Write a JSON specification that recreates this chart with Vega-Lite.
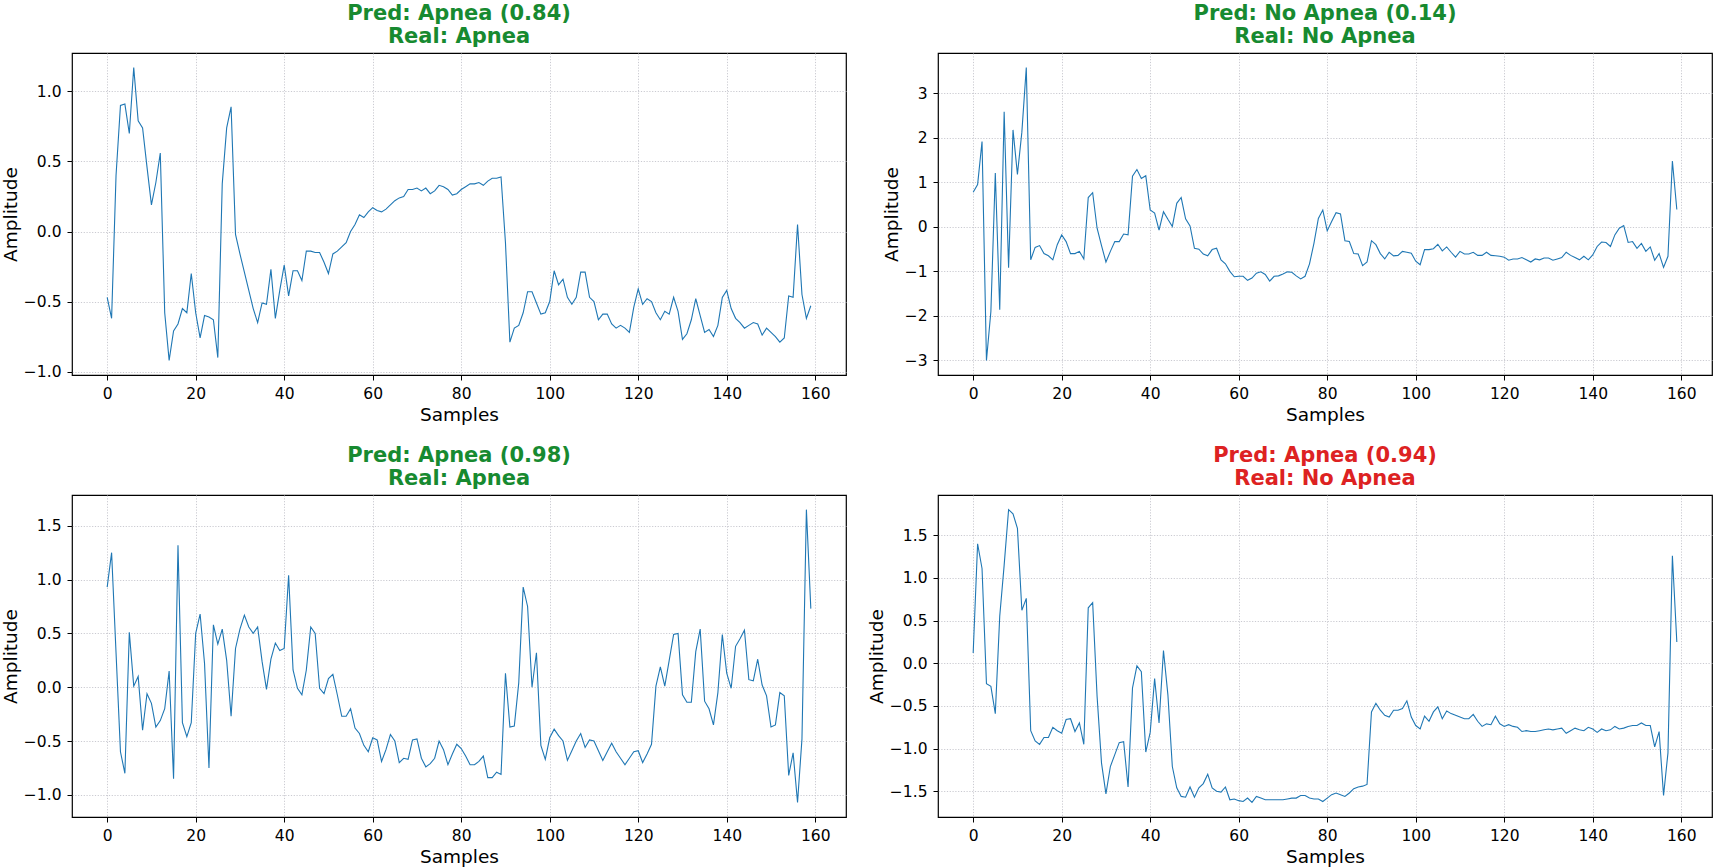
{
  "$schema": "https://vega.github.io/schema/vega-lite/v6.json",
  "padding": {"left": 0, "top": 2, "right": 0, "bottom": 0},
  "background": "white",
  "datasets": {
    "p1": [
      {"x":0,"y":-0.47},{"x":1,"y":-0.62},{"x":2,"y":0.40},{"x":3,"y":0.90},{"x":4,"y":0.91},{"x":5,"y":0.70},{"x":6,"y":1.17},{"x":7,"y":0.79},{"x":8,"y":0.74},{"x":9,"y":0.46},
      {"x":10,"y":0.19},{"x":11,"y":0.35},{"x":12,"y":0.56},{"x":13,"y":-0.58},{"x":14,"y":-0.92},{"x":15,"y":-0.71},{"x":16,"y":-0.66},{"x":17,"y":-0.55},{"x":18,"y":-0.58},{"x":19,"y":-0.30},
      {"x":20,"y":-0.58},{"x":21,"y":-0.76},{"x":22,"y":-0.60},{"x":23,"y":-0.61},{"x":24,"y":-0.63},{"x":25,"y":-0.90},{"x":26,"y":0.34},{"x":27,"y":0.74},{"x":28,"y":0.89},{"x":29,"y":-0.02},
      {"x":30,"y":-0.16},{"x":31,"y":-0.29},{"x":32,"y":-0.42},{"x":33,"y":-0.55},{"x":34,"y":-0.65},{"x":35,"y":-0.51},{"x":36,"y":-0.52},{"x":37,"y":-0.27},{"x":38,"y":-0.62},{"x":39,"y":-0.42},
      {"x":40,"y":-0.24},{"x":41,"y":-0.46},{"x":42,"y":-0.28},{"x":43,"y":-0.28},{"x":44,"y":-0.35},{"x":45,"y":-0.14},{"x":46,"y":-0.14},{"x":47,"y":-0.15},{"x":48,"y":-0.15},{"x":49,"y":-0.22},
      {"x":50,"y":-0.30},{"x":51,"y":-0.16},{"x":52,"y":-0.14},{"x":53,"y":-0.11},{"x":54,"y":-0.08},{"x":55,"y":0.00},{"x":56,"y":0.05},{"x":57,"y":0.12},{"x":58,"y":0.10},{"x":59,"y":0.14},
      {"x":60,"y":0.17},{"x":61,"y":0.15},{"x":62,"y":0.14},{"x":63,"y":0.16},{"x":64,"y":0.19},{"x":65,"y":0.22},{"x":66,"y":0.24},{"x":67,"y":0.25},{"x":68,"y":0.30},{"x":69,"y":0.30},
      {"x":70,"y":0.31},{"x":71,"y":0.29},{"x":72,"y":0.31},{"x":73,"y":0.27},{"x":74,"y":0.29},{"x":75,"y":0.33},{"x":76,"y":0.32},{"x":77,"y":0.30},{"x":78,"y":0.26},{"x":79,"y":0.27},
      {"x":80,"y":0.30},{"x":81,"y":0.32},{"x":82,"y":0.34},{"x":83,"y":0.34},{"x":84,"y":0.35},{"x":85,"y":0.33},{"x":86,"y":0.36},{"x":87,"y":0.38},{"x":88,"y":0.38},{"x":89,"y":0.39},
      {"x":90,"y":-0.08},{"x":91,"y":-0.79},{"x":92,"y":-0.69},{"x":93,"y":-0.67},{"x":94,"y":-0.58},{"x":95,"y":-0.43},{"x":96,"y":-0.43},{"x":97,"y":-0.51},{"x":98,"y":-0.59},{"x":99,"y":-0.58},
      {"x":100,"y":-0.50},{"x":101,"y":-0.28},{"x":102,"y":-0.38},{"x":103,"y":-0.34},{"x":104,"y":-0.47},{"x":105,"y":-0.52},{"x":106,"y":-0.47},{"x":107,"y":-0.29},{"x":108,"y":-0.29},{"x":109,"y":-0.47},
      {"x":110,"y":-0.50},{"x":111,"y":-0.63},{"x":112,"y":-0.59},{"x":113,"y":-0.59},{"x":114,"y":-0.66},{"x":115,"y":-0.69},{"x":116,"y":-0.67},{"x":117,"y":-0.69},{"x":118,"y":-0.72},{"x":119,"y":-0.54},
      {"x":120,"y":-0.41},{"x":121,"y":-0.52},{"x":122,"y":-0.48},{"x":123,"y":-0.50},{"x":124,"y":-0.58},{"x":125,"y":-0.63},{"x":126,"y":-0.57},{"x":127,"y":-0.59},{"x":128,"y":-0.47},{"x":129,"y":-0.57},
      {"x":130,"y":-0.77},{"x":131,"y":-0.73},{"x":132,"y":-0.63},{"x":133,"y":-0.48},{"x":134,"y":-0.60},{"x":135,"y":-0.72},{"x":136,"y":-0.70},{"x":137,"y":-0.75},{"x":138,"y":-0.67},{"x":139,"y":-0.47},
      {"x":140,"y":-0.42},{"x":141,"y":-0.55},{"x":142,"y":-0.62},{"x":143,"y":-0.65},{"x":144,"y":-0.69},{"x":145,"y":-0.67},{"x":146,"y":-0.65},{"x":147,"y":-0.66},{"x":148,"y":-0.74},{"x":149,"y":-0.69},
      {"x":150,"y":-0.72},{"x":151,"y":-0.75},{"x":152,"y":-0.79},{"x":153,"y":-0.76},{"x":154,"y":-0.46},{"x":155,"y":-0.47},{"x":156,"y":0.05},{"x":157,"y":-0.45},{"x":158,"y":-0.62},{"x":159,"y":-0.53}
    ],
    "p2": [
      {"x":0,"y":0.78},{"x":1,"y":0.95},{"x":2,"y":1.92},{"x":3,"y":-3.00},{"x":4,"y":-1.90},{"x":5,"y":1.21},{"x":6,"y":-1.86},{"x":7,"y":2.59},{"x":8,"y":-0.92},{"x":9,"y":2.18},
      {"x":10,"y":1.18},{"x":11,"y":2.13},{"x":12,"y":3.58},{"x":13,"y":-0.74},{"x":14,"y":-0.46},{"x":15,"y":-0.42},{"x":16,"y":-0.60},{"x":17,"y":-0.65},{"x":18,"y":-0.74},{"x":19,"y":-0.40},
      {"x":20,"y":-0.18},{"x":21,"y":-0.33},{"x":22,"y":-0.60},{"x":23,"y":-0.60},{"x":24,"y":-0.55},{"x":25,"y":-0.72},{"x":26,"y":0.66},{"x":27,"y":0.77},{"x":28,"y":-0.03},{"x":29,"y":-0.42},
      {"x":30,"y":-0.79},{"x":31,"y":-0.55},{"x":32,"y":-0.33},{"x":33,"y":-0.33},{"x":34,"y":-0.16},{"x":35,"y":-0.18},{"x":36,"y":1.14},{"x":37,"y":1.29},{"x":38,"y":1.09},{"x":39,"y":1.15},
      {"x":40,"y":0.38},{"x":41,"y":0.31},{"x":42,"y":-0.07},{"x":43,"y":0.34},{"x":44,"y":0.17},{"x":45,"y":0.01},{"x":46,"y":0.53},{"x":47,"y":0.66},{"x":48,"y":0.18},{"x":49,"y":0.02},
      {"x":50,"y":-0.48},{"x":51,"y":-0.50},{"x":52,"y":-0.61},{"x":53,"y":-0.65},{"x":54,"y":-0.51},{"x":55,"y":-0.48},{"x":56,"y":-0.74},{"x":57,"y":-0.83},{"x":58,"y":-1.00},{"x":59,"y":-1.12},
      {"x":60,"y":-1.11},{"x":61,"y":-1.11},{"x":62,"y":-1.20},{"x":63,"y":-1.15},{"x":64,"y":-1.04},{"x":65,"y":-1.01},{"x":66,"y":-1.07},{"x":67,"y":-1.22},{"x":68,"y":-1.11},{"x":69,"y":-1.10},
      {"x":70,"y":-1.06},{"x":71,"y":-1.01},{"x":72,"y":-1.02},{"x":73,"y":-1.10},{"x":74,"y":-1.17},{"x":75,"y":-1.11},{"x":76,"y":-0.83},{"x":77,"y":-0.37},{"x":78,"y":0.19},{"x":79,"y":0.38},
      {"x":80,"y":-0.09},{"x":81,"y":0.12},{"x":82,"y":0.32},{"x":83,"y":0.29},{"x":84,"y":-0.31},{"x":85,"y":-0.33},{"x":86,"y":-0.60},{"x":87,"y":-0.61},{"x":88,"y":-0.87},{"x":89,"y":-0.79},
      {"x":90,"y":-0.31},{"x":91,"y":-0.40},{"x":92,"y":-0.60},{"x":93,"y":-0.72},{"x":94,"y":-0.57},{"x":95,"y":-0.65},{"x":96,"y":-0.64},{"x":97,"y":-0.55},{"x":98,"y":-0.57},{"x":99,"y":-0.59},
      {"x":100,"y":-0.77},{"x":101,"y":-0.85},{"x":102,"y":-0.51},{"x":103,"y":-0.51},{"x":104,"y":-0.49},{"x":105,"y":-0.39},{"x":106,"y":-0.54},{"x":107,"y":-0.45},{"x":108,"y":-0.57},{"x":109,"y":-0.68},
      {"x":110,"y":-0.55},{"x":111,"y":-0.61},{"x":112,"y":-0.61},{"x":113,"y":-0.57},{"x":114,"y":-0.64},{"x":115,"y":-0.64},{"x":116,"y":-0.57},{"x":117,"y":-0.64},{"x":118,"y":-0.65},{"x":119,"y":-0.66},
      {"x":120,"y":-0.68},{"x":121,"y":-0.75},{"x":122,"y":-0.72},{"x":123,"y":-0.72},{"x":124,"y":-0.69},{"x":125,"y":-0.74},{"x":126,"y":-0.79},{"x":127,"y":-0.72},{"x":128,"y":-0.74},{"x":129,"y":-0.70},
      {"x":130,"y":-0.70},{"x":131,"y":-0.75},{"x":132,"y":-0.72},{"x":133,"y":-0.69},{"x":134,"y":-0.57},{"x":135,"y":-0.64},{"x":136,"y":-0.69},{"x":137,"y":-0.74},{"x":138,"y":-0.66},{"x":139,"y":-0.74},
      {"x":140,"y":-0.63},{"x":141,"y":-0.44},{"x":142,"y":-0.34},{"x":143,"y":-0.35},{"x":144,"y":-0.44},{"x":145,"y":-0.18},{"x":146,"y":-0.03},{"x":147,"y":0.03},{"x":148,"y":-0.35},{"x":149,"y":-0.33},
      {"x":150,"y":-0.48},{"x":151,"y":-0.37},{"x":152,"y":-0.55},{"x":153,"y":-0.45},{"x":154,"y":-0.75},{"x":155,"y":-0.60},{"x":156,"y":-0.91},{"x":157,"y":-0.66},{"x":158,"y":1.48},{"x":159,"y":0.39}
    ],
    "p3": [
      {"x":0,"y":0.93},{"x":1,"y":1.25},{"x":2,"y":0.32},{"x":3,"y":-0.60},{"x":4,"y":-0.80},{"x":5,"y":0.51},{"x":6,"y":0.01},{"x":7,"y":0.10},{"x":8,"y":-0.40},{"x":9,"y":-0.06},
      {"x":10,"y":-0.15},{"x":11,"y":-0.37},{"x":12,"y":-0.31},{"x":13,"y":-0.20},{"x":14,"y":0.15},{"x":15,"y":-0.85},{"x":16,"y":1.32},{"x":17,"y":-0.33},{"x":18,"y":-0.46},{"x":19,"y":-0.33},
      {"x":20,"y":0.50},{"x":21,"y":0.68},{"x":22,"y":0.22},{"x":23,"y":-0.75},{"x":24,"y":0.58},{"x":25,"y":0.40},{"x":26,"y":0.54},{"x":27,"y":0.25},{"x":28,"y":-0.27},{"x":29,"y":0.36},
      {"x":30,"y":0.54},{"x":31,"y":0.67},{"x":32,"y":0.56},{"x":33,"y":0.50},{"x":34,"y":0.56},{"x":35,"y":0.24},{"x":36,"y":-0.02},{"x":37,"y":0.26},{"x":38,"y":0.41},{"x":39,"y":0.34},
      {"x":40,"y":0.36},{"x":41,"y":1.04},{"x":42,"y":0.16},{"x":43,"y":-0.01},{"x":44,"y":-0.07},{"x":45,"y":0.16},{"x":46,"y":0.56},{"x":47,"y":0.50},{"x":48,"y":-0.01},{"x":49,"y":-0.06},
      {"x":50,"y":0.08},{"x":51,"y":0.12},{"x":52,"y":-0.07},{"x":53,"y":-0.27},{"x":54,"y":-0.27},{"x":55,"y":-0.20},{"x":56,"y":-0.38},{"x":57,"y":-0.43},{"x":58,"y":-0.54},{"x":59,"y":-0.60},
      {"x":60,"y":-0.47},{"x":61,"y":-0.49},{"x":62,"y":-0.69},{"x":63,"y":-0.58},{"x":64,"y":-0.44},{"x":65,"y":-0.50},{"x":66,"y":-0.70},{"x":67,"y":-0.66},{"x":68,"y":-0.67},{"x":69,"y":-0.49},
      {"x":70,"y":-0.48},{"x":71,"y":-0.66},{"x":72,"y":-0.74},{"x":73,"y":-0.71},{"x":74,"y":-0.66},{"x":75,"y":-0.50},{"x":76,"y":-0.58},{"x":77,"y":-0.72},{"x":78,"y":-0.62},{"x":79,"y":-0.53},
      {"x":80,"y":-0.57},{"x":81,"y":-0.64},{"x":82,"y":-0.72},{"x":83,"y":-0.72},{"x":84,"y":-0.69},{"x":85,"y":-0.64},{"x":86,"y":-0.84},{"x":87,"y":-0.84},{"x":88,"y":-0.79},{"x":89,"y":-0.81},
      {"x":90,"y":0.13},{"x":91,"y":-0.37},{"x":92,"y":-0.36},{"x":93,"y":0.04},{"x":94,"y":0.93},{"x":95,"y":0.75},{"x":96,"y":0.00},{"x":97,"y":0.32},{"x":98,"y":-0.54},{"x":99,"y":-0.67},
      {"x":100,"y":-0.47},{"x":101,"y":-0.39},{"x":102,"y":-0.45},{"x":103,"y":-0.50},{"x":104,"y":-0.68},{"x":105,"y":-0.59},{"x":106,"y":-0.50},{"x":107,"y":-0.43},{"x":108,"y":-0.56},{"x":109,"y":-0.49},
      {"x":110,"y":-0.50},{"x":111,"y":-0.59},{"x":112,"y":-0.68},{"x":113,"y":-0.60},{"x":114,"y":-0.52},{"x":115,"y":-0.60},{"x":116,"y":-0.66},{"x":117,"y":-0.72},{"x":118,"y":-0.66},{"x":119,"y":-0.60},
      {"x":120,"y":-0.59},{"x":121,"y":-0.70},{"x":122,"y":-0.62},{"x":123,"y":-0.53},{"x":124,"y":0.01},{"x":125,"y":0.19},{"x":126,"y":0.01},{"x":127,"y":0.25},{"x":128,"y":0.49},{"x":129,"y":0.50},
      {"x":130,"y":-0.07},{"x":131,"y":-0.14},{"x":132,"y":-0.14},{"x":133,"y":0.33},{"x":134,"y":0.54},{"x":135,"y":-0.13},{"x":136,"y":-0.20},{"x":137,"y":-0.35},{"x":138,"y":-0.05},{"x":139,"y":0.49},
      {"x":140,"y":0.13},{"x":141,"y":-0.01},{"x":142,"y":0.38},{"x":143,"y":0.45},{"x":144,"y":0.53},{"x":145,"y":0.07},{"x":146,"y":0.06},{"x":147,"y":0.26},{"x":148,"y":0.02},{"x":149,"y":-0.08},
      {"x":150,"y":-0.37},{"x":151,"y":-0.35},{"x":152,"y":-0.05},{"x":153,"y":-0.08},{"x":154,"y":-0.82},{"x":155,"y":-0.61},{"x":156,"y":-1.07},{"x":157,"y":-0.48},{"x":158,"y":1.65},{"x":159,"y":0.73}
    ],
    "p4": [
      {"x":0,"y":0.12},{"x":1,"y":1.40},{"x":2,"y":1.11},{"x":3,"y":-0.24},{"x":4,"y":-0.27},{"x":5,"y":-0.59},{"x":6,"y":0.55},{"x":7,"y":1.15},{"x":8,"y":1.80},{"x":9,"y":1.75},
      {"x":10,"y":1.58},{"x":11,"y":0.62},{"x":12,"y":0.76},{"x":13,"y":-0.79},{"x":14,"y":-0.91},{"x":15,"y":-0.95},{"x":16,"y":-0.87},{"x":17,"y":-0.87},{"x":18,"y":-0.75},{"x":19,"y":-0.79},
      {"x":20,"y":-0.82},{"x":21,"y":-0.66},{"x":22,"y":-0.65},{"x":23,"y":-0.80},{"x":24,"y":-0.70},{"x":25,"y":-0.95},{"x":26,"y":0.65},{"x":27,"y":0.71},{"x":28,"y":-0.39},{"x":29,"y":-1.17},
      {"x":30,"y":-1.53},{"x":31,"y":-1.21},{"x":32,"y":-1.07},{"x":33,"y":-0.93},{"x":34,"y":-0.92},{"x":35,"y":-1.45},{"x":36,"y":-0.29},{"x":37,"y":-0.03},{"x":38,"y":-0.10},{"x":39,"y":-1.04},
      {"x":40,"y":-0.81},{"x":41,"y":-0.18},{"x":42,"y":-0.70},{"x":43,"y":0.15},{"x":44,"y":-0.37},{"x":45,"y":-1.21},{"x":46,"y":-1.46},{"x":47,"y":-1.56},{"x":48,"y":-1.57},{"x":49,"y":-1.45},
      {"x":50,"y":-1.57},{"x":51,"y":-1.46},{"x":52,"y":-1.41},{"x":53,"y":-1.30},{"x":54,"y":-1.46},{"x":55,"y":-1.50},{"x":56,"y":-1.51},{"x":57,"y":-1.45},{"x":58,"y":-1.60},{"x":59,"y":-1.59},
      {"x":60,"y":-1.61},{"x":61,"y":-1.62},{"x":62,"y":-1.58},{"x":63,"y":-1.63},{"x":64,"y":-1.56},{"x":65,"y":-1.58},{"x":66,"y":-1.60},{"x":67,"y":-1.60},{"x":68,"y":-1.60},{"x":69,"y":-1.60},
      {"x":70,"y":-1.60},{"x":71,"y":-1.59},{"x":72,"y":-1.58},{"x":73,"y":-1.58},{"x":74,"y":-1.55},{"x":75,"y":-1.55},{"x":76,"y":-1.58},{"x":77,"y":-1.59},{"x":78,"y":-1.59},{"x":79,"y":-1.62},
      {"x":80,"y":-1.58},{"x":81,"y":-1.54},{"x":82,"y":-1.52},{"x":83,"y":-1.54},{"x":84,"y":-1.56},{"x":85,"y":-1.52},{"x":86,"y":-1.47},{"x":87,"y":-1.45},{"x":88,"y":-1.44},{"x":89,"y":-1.42},
      {"x":90,"y":-0.57},{"x":91,"y":-0.47},{"x":92,"y":-0.55},{"x":93,"y":-0.61},{"x":94,"y":-0.63},{"x":95,"y":-0.55},{"x":96,"y":-0.55},{"x":97,"y":-0.53},{"x":98,"y":-0.44},{"x":99,"y":-0.63},
      {"x":100,"y":-0.73},{"x":101,"y":-0.77},{"x":102,"y":-0.62},{"x":103,"y":-0.68},{"x":104,"y":-0.57},{"x":105,"y":-0.51},{"x":106,"y":-0.65},{"x":107,"y":-0.56},{"x":108,"y":-0.59},{"x":109,"y":-0.61},
      {"x":110,"y":-0.63},{"x":111,"y":-0.65},{"x":112,"y":-0.65},{"x":113,"y":-0.60},{"x":114,"y":-0.68},{"x":115,"y":-0.74},{"x":116,"y":-0.71},{"x":117,"y":-0.72},{"x":118,"y":-0.62},{"x":119,"y":-0.71},
      {"x":120,"y":-0.74},{"x":121,"y":-0.72},{"x":122,"y":-0.74},{"x":123,"y":-0.75},{"x":124,"y":-0.80},{"x":125,"y":-0.79},{"x":126,"y":-0.80},{"x":127,"y":-0.80},{"x":128,"y":-0.79},{"x":129,"y":-0.78},
      {"x":130,"y":-0.77},{"x":131,"y":-0.78},{"x":132,"y":-0.77},{"x":133,"y":-0.76},{"x":134,"y":-0.82},{"x":135,"y":-0.79},{"x":136,"y":-0.76},{"x":137,"y":-0.78},{"x":138,"y":-0.79},{"x":139,"y":-0.75},
      {"x":140,"y":-0.77},{"x":141,"y":-0.81},{"x":142,"y":-0.77},{"x":143,"y":-0.79},{"x":144,"y":-0.78},{"x":145,"y":-0.74},{"x":146,"y":-0.77},{"x":147,"y":-0.76},{"x":148,"y":-0.74},{"x":149,"y":-0.73},
      {"x":150,"y":-0.73},{"x":151,"y":-0.70},{"x":152,"y":-0.73},{"x":153,"y":-0.73},{"x":154,"y":-0.98},{"x":155,"y":-0.80},{"x":156,"y":-1.55},{"x":157,"y":-1.05},{"x":158,"y":1.26},{"x":159,"y":0.25}
    ]
  },
  "columns": 2,
  "bounds": "flush",
  "spacing": {"row": 120, "column": 92},
  "concat": [
    {
      "data": {"name": "p1"},
      "title": {"text": ["Pred: Apnea (0.84)", "Real: Apnea"], "color": "#178a30"},
      "width": 774,
      "height": 322,
      "mark": {"type": "line", "color": "#1f77b4", "strokeWidth": 1.1},
      "encoding": {
        "x": {"field": "x", "type": "quantitative", "title": "Samples",
              "scale": {"domain": [-7.95, 166.95], "nice": false, "zero": false},
              "axis": {"values": [0, 20, 40, 60, 80, 100, 120, 140, 160]}},
        "y": {"field": "y", "type": "quantitative", "title": "Amplitude",
              "scale": {"domain": [-1.0245, 1.2745], "nice": false, "zero": false},
              "axis": {"values": [-1, -0.5, 0, 0.5, 1], "format": ".1f"}}
      }
    },
    {
      "data": {"name": "p2"},
      "title": {"text": ["Pred: No Apnea (0.14)", "Real: No Apnea"], "color": "#178a30"},
      "width": 774,
      "height": 322,
      "mark": {"type": "line", "color": "#1f77b4", "strokeWidth": 1.1},
      "encoding": {
        "x": {"field": "x", "type": "quantitative", "title": "Samples",
              "scale": {"domain": [-7.95, 166.95], "nice": false, "zero": false},
              "axis": {"values": [0, 20, 40, 60, 80, 100, 120, 140, 160]}},
        "y": {"field": "y", "type": "quantitative", "title": "Amplitude",
              "scale": {"domain": [-3.329, 3.909], "nice": false, "zero": false},
              "axis": {"values": [-3, -2, -1, 0, 1, 2, 3], "format": "d"}}
      }
    },
    {
      "data": {"name": "p3"},
      "title": {"text": ["Pred: Apnea (0.98)", "Real: Apnea"], "color": "#178a30"},
      "width": 774,
      "height": 322,
      "mark": {"type": "line", "color": "#1f77b4", "strokeWidth": 1.1},
      "encoding": {
        "x": {"field": "x", "type": "quantitative", "title": "Samples",
              "scale": {"domain": [-7.95, 166.95], "nice": false, "zero": false},
              "axis": {"values": [0, 20, 40, 60, 80, 100, 120, 140, 160]}},
        "y": {"field": "y", "type": "quantitative", "title": "Amplitude",
              "scale": {"domain": [-1.206, 1.786], "nice": false, "zero": false},
              "axis": {"values": [-1, -0.5, 0, 0.5, 1, 1.5], "format": ".1f"}}
      }
    },
    {
      "data": {"name": "p4"},
      "title": {"text": ["Pred: Apnea (0.94)", "Real: No Apnea"], "color": "#dd2222"},
      "width": 774,
      "height": 322,
      "mark": {"type": "line", "color": "#1f77b4", "strokeWidth": 1.1},
      "encoding": {
        "x": {"field": "x", "type": "quantitative", "title": "Samples",
              "scale": {"domain": [-7.95, 166.95], "nice": false, "zero": false},
              "axis": {"values": [0, 20, 40, 60, 80, 100, 120, 140, 160]}},
        "y": {"field": "y", "type": "quantitative", "title": "Amplitude",
              "scale": {"domain": [-1.8015, 1.9715], "nice": false, "zero": false},
              "axis": {"values": [-1.5, -1, -0.5, 0, 0.5, 1, 1.5], "format": ".1f"}}
      }
    }
  ],
  "config": {
    "font": "DejaVu Sans",
    "view": {"stroke": "#000000", "strokeWidth": 1.2},
    "title": {"font": "DejaVu Sans", "fontSize": 21, "fontWeight": "bold", "lineHeight": 23, "offset": 6, "anchor": "middle"},
    "axis": {
      "domain": false,
      "labelFont": "DejaVu Sans",
      "labelFontSize": 15.5,
      "labelColor": "#000000",
      "labelPadding": 6,
      "tickColor": "#000000",
      "tickSize": 5,
      "tickWidth": 1,
      "titleFont": "DejaVu Sans",
      "titleFontSize": 18.5,
      "titleFontWeight": "normal",
      "titleColor": "#000000",
      "gridColor": "#c4c4cc",
      "gridDash": [1.2, 1.6],
      "gridWidth": 0.9,
      "gridOpacity": 1
    },
    "axisX": {"titlePadding": 4, "labelFlush": false},
    "axisY": {"titlePadding": 3, "labelFlush": false}
  }
}
